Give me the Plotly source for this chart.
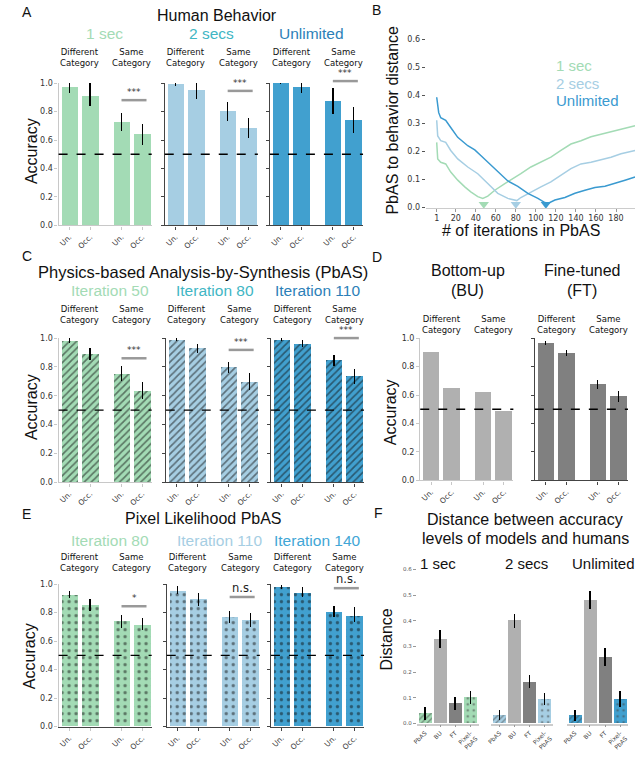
import plotly.graph_objects as go

# ---------------- data ----------------
CONDITIONS = ["Un.", "Occ.", "Un.", "Occ."]
CATEGORIES = ["Different<br>Category", "Same<br>Category"]

# A: Human behavior
A_GROUPS = ["1 sec", "2 secs", "Unlimited"]
A_VALS = [[0.972, 0.912, 0.727, 0.640], [0.995, 0.949, 0.800, 0.686], [0.998, 0.975, 0.873, 0.741]]
A_LO = [[0.930, 0.838, 0.665, 0.566], [0.977, 0.890, 0.732, 0.612], [0.990, 0.930, 0.780, 0.648]]
A_HI = [[1.000, 1.000, 0.790, 0.710], [1.000, 1.000, 0.868, 0.757], [1.000, 1.000, 0.965, 0.833]]
A_SIG = ["***", "***", "***"]
A_SIG_LEVEL = [0.88, 0.945, 1.014]

# B: PbAS to behavior distance
B_SERIES = ["1 sec", "2 secs", "Unlimited"]
B_ITER_1SEC = [1, 2, 5, 10, 15, 22, 29, 35, 42, 47, 52, 59, 69, 79, 85, 95, 105, 115, 125, 135, 145, 155, 165, 175, 185, 199]
B_DIST_1SEC = [0.233, 0.174, 0.162, 0.156, 0.127, 0.098, 0.074, 0.056, 0.039, 0.033, 0.041, 0.062, 0.086, 0.107, 0.121,
               0.145, 0.162, 0.180, 0.204, 0.227, 0.239, 0.253, 0.262, 0.272, 0.280, 0.292]
B_ITER_2SEC = [1, 2, 5, 10, 15, 22, 32, 42, 52, 62, 72, 77, 81, 85, 95, 105, 115, 125, 135, 145, 155, 165, 175, 185, 199]
B_DIST_2SEC = [0.312, 0.256, 0.239, 0.233, 0.204, 0.174, 0.145, 0.121, 0.086, 0.051, 0.033, 0.029, 0.025, 0.036, 0.056,
               0.074, 0.092, 0.115, 0.139, 0.156, 0.162, 0.171, 0.180, 0.192, 0.204]
B_ITER_UNLIM = [1, 3, 5, 10, 15, 22, 32, 39, 45, 52, 62, 72, 82, 92, 102, 109, 112, 119, 129, 139, 149, 159, 169, 179, 189, 199]
B_DIST_UNLIM = [0.394, 0.339, 0.321, 0.312, 0.286, 0.251, 0.221, 0.206, 0.186, 0.162, 0.127, 0.095, 0.076, 0.051, 0.033,
                0.018, 0.015, 0.027, 0.036, 0.051, 0.062, 0.072, 0.076, 0.086, 0.098, 0.109]
B_MIN_ITER = [48, 80, 110]
B_MIN_MARK = [0.012, 0.012, 0.012]
B_XTICKS = [1, 20, 40, 60, 80, 100, 120, 140, 160, 180]
B_YTICKS = [0.0, 0.1, 0.2, 0.3, 0.4, 0.5, 0.6]

# C: PbAS
C_GROUPS = ["Iteration 50", "Iteration 80", "Iteration 110"]
C_VALS = [[0.982, 0.892, 0.753, 0.634], [0.989, 0.929, 0.799, 0.696], [0.989, 0.961, 0.845, 0.735]]
C_LO = [[0.966, 0.851, 0.703, 0.577], [0.980, 0.897, 0.755, 0.641], [0.980, 0.938, 0.808, 0.685]]
C_HI = [[1.000, 0.931, 0.805, 0.698], [1.000, 0.961, 0.835, 0.755], [1.000, 0.984, 0.884, 0.785]]
C_SIG = ["***", "***", "***"]
C_SIG_LEVEL = [0.86, 0.918, 1.0]

# D: Bottom-up and fine-tuned
D_GROUPS = ["Bottom-up<br>(BU)", "Fine-tuned<br>(FT)"]
D_BU = [0.903, 0.650, 0.620, 0.484]
D_FT = [0.965, 0.896, 0.676, 0.593]
D_FT_LO = [0.951, 0.873, 0.641, 0.553]
D_FT_HI = [0.981, 0.919, 0.706, 0.630]

# E: Pixel likelihood PbAS
E_GROUPS = ["Iteration 80", "Iteration 110", "Iteration 140"]
E_VALS = [[0.926, 0.850, 0.738, 0.711], [0.954, 0.898, 0.769, 0.750], [0.981, 0.938, 0.805, 0.778]]
E_LO = [[0.905, 0.815, 0.694, 0.680], [0.930, 0.845, 0.727, 0.700], [0.965, 0.907, 0.766, 0.736]]
E_HI = [[0.954, 0.896, 0.787, 0.764], [0.988, 0.935, 0.815, 0.800], [0.995, 0.977, 0.845, 0.840]]
E_SIG = ["*", "n.s.", "n.s."]
E_SIG_LEVEL = [0.845, 0.91, 0.972]

# F: distance between models and humans
F_GROUPS = ["1 sec", "2 secs", "Unlimited"]
F_MODELS = ["PbAS", "BU", "FT", "Pixel-<br>PbAS"]
F_VALS = [[0.038, 0.328, 0.077, 0.102], [0.033, 0.400, 0.162, 0.094], [0.031, 0.480, 0.258, 0.096]]
F_ERR = [[0.025, 0.035, 0.025, 0.025], [0.020, 0.027, 0.025, 0.023], [0.022, 0.034, 0.036, 0.032]]
F_YTICKS = [0.0, 0.1, 0.2, 0.3, 0.4, 0.5, 0.6]
ACC_TICKS = [0.0, 0.2, 0.4, 0.6, 0.8, 1.0]

# ---------------- style ----------------
W, H = 640, 775
GREEN = "#a3dbb5"
LBLUE = "#a6cee3"
BLUE = "#41a0cf"
CYAN_T = "#41b6c4"
DBLUE_T = "#2c7fb8"
BU_GREY = "#b0b0b0"
FT_GREY = "#808080"
TITLE_FONT = "Liberation Sans, Arial, sans-serif"
TICK_FONT = "DejaVu Sans, sans-serif"
LIGHT_SPINE = "#c8c8c8"
DARK_SPINE = "#444444"

fig = go.Figure()
layout_axes = {}
shapes = []
annotations = []
n_axes = [0]


def fx(px):
    return px / W


def fy(py):
    return 1 - py / H


def new_axes(x0, x1, ytop, ybot, xr, yr, xopt, yopt):
    n_axes[0] += 1
    k = n_axes[0]
    s = "" if k == 1 else str(k)
    base = dict(showgrid=False, zeroline=False, fixedrange=True)
    xd = dict(base, domain=[fx(x0), fx(x1)], anchor="y" + s, range=xr)
    xd.update(xopt)
    yd = dict(base, domain=[fy(ybot), fy(ytop)], anchor="x" + s, range=yr)
    yd.update(yopt)
    layout_axes["xaxis" + s] = xd
    layout_axes["yaxis" + s] = yd
    return "x" + s, "y" + s


def text(t, px, py, size, color="#111111", family=TITLE_FONT, angle=0, xanchor="center", yanchor="middle"):
    annotations.append(dict(text=t, x=fx(px), y=fy(py), xref="paper", yref="paper", showarrow=False,
                            textangle=angle, xanchor=xanchor, yanchor=yanchor,
                            font=dict(size=size, color=color, family=family)))


def hline_px(x0, x1, py, color, width):
    shapes.append(dict(type="line", xref="paper", yref="paper", x0=fx(x0), x1=fx(x1), y0=fy(py), y1=fy(py),
                       line=dict(color=color, width=width)))


UNIT = 21.0
XR = [-0.52, 3.95]
POS = [0, 1, 2.5, 3.5]
BAR_W = 0.8


def px_of(x0, v):
    return x0 + (v - XR[0]) * UNIT


def py_of(ytop, ybot, v):
    return ybot - v * (ybot - ytop)


def bar_group(x0, ytop, ybot, vals, lo, hi, color, pattern, show_ylab, spine, bottom=None):
    x1 = x0 + (XR[1] - XR[0]) * UNIT
    xopt = dict(tickvals=POS, ticktext=CONDITIONS, tickangle=-45, ticks="outside", ticklen=3,
                tickcolor=spine, showline=True, linecolor=bottom or spine, linewidth=1.3,
                tickfont=dict(size=7.5, family=TICK_FONT, color="#333333"))
    yopt = dict(tickvals=ACC_TICKS, tickformat=".1f", ticks="outside", ticklen=3, tickcolor=spine,
                showline=True, linecolor=spine, linewidth=1.3, showticklabels=show_ylab,
                tickfont=dict(size=8, family=TICK_FONT, color="#333333"))
    xa, ya = new_axes(x0, x1, ytop, ybot, XR, [0, 1], xopt, yopt)
    marker = dict(color=color, line=dict(width=0))
    if pattern == "hatch":
        marker["pattern"] = dict(shape="/", fgcolor="#111111", bgcolor=color, size=5, solidity=0.34)
    elif pattern == "dots":
        marker["pattern"] = dict(shape=".", fgcolor="#111111", bgcolor=color, size=7, solidity=0.17)
    bar = dict(x=POS, y=vals, width=BAR_W, marker=marker, xaxis=xa, yaxis=ya, showlegend=False,
               hoverinfo="skip")
    if lo is not None:
        bar["error_y"] = dict(type="data", symmetric=False,
                              array=[h - v for v, h in zip(vals, hi)],
                              arrayminus=[v - l for v, l in zip(vals, lo)],
                              color="black", thickness=1.5, width=0)
    fig.add_trace(go.Bar(**bar))
    shapes.append(dict(type="line", xref=xa + " domain", yref=ya, x0=0, x1=1, y0=0.5, y1=0.5,
                       line=dict(color="black", width=1.3, dash="dash")))
    return xa, ya


def category_labels(x0, cy):
    text(CATEGORIES[0], px_of(x0, 0.5), cy, 8.5, family=TICK_FONT)
    text(CATEGORIES[1], px_of(x0, 3.0), cy, 8.5, family=TICK_FONT)


def sig_marker(x0, ytop, ybot, level, label, big=False):
    py = py_of(ytop, ybot, level)
    hline_px(px_of(x0, 2.5), px_of(x0, 3.7), py, "#999999", 2.5)
    if big:
        text(label, px_of(x0, 3.1), py, 11.5, family=TICK_FONT, color="#222222", yanchor="bottom")
    else:
        text(label, px_of(x0, 3.1), py - 1, 9, family=TICK_FONT, color="#333333", yanchor="bottom")


# ---------------- Panel A ----------------
A_X0 = [54, 161, 267]
A_TOP, A_BOT = 80, 224
A_COLORS = [GREEN, LBLUE, BLUE]
A_TCOLORS = [GREEN, CYAN_T, DBLUE_T]
A_TX = [100, 208, 309]
for g in range(3):
    bar_group(A_X0[g], A_TOP, A_BOT, A_VALS[g], A_LO[g], A_HI[g], A_COLORS[g], None, g == 0,
              LIGHT_SPINE if g == 0 else DARK_SPINE)
    category_labels(A_X0[g], 54.5)
    sig_marker(A_X0[g], A_TOP, A_BOT, A_SIG_LEVEL[g], A_SIG[g])
    text(A_GROUPS[g], A_TX[g], 30, 15.5, color=A_TCOLORS[g])
text("Human Behavior", 214, 12, 16)
text("A", 22, 8, 14)
text("Accuracy", 26, 149, 16, angle=-90)

# ---------------- Panel B ----------------
xa, ya = new_axes(424, 635, 36, 206, [-10, 199], [0, 0.6],
                  dict(tickvals=B_XTICKS, ticks="outside", ticklen=3, showline=True, linecolor="#cccccc",
                       tickcolor="#999999", tickfont=dict(size=8, family=TICK_FONT, color="#333333")),
                  dict(tickvals=B_YTICKS, tickformat=".1f", ticks="outside", ticklen=3, showline=False,
                       tickcolor="#555555", tickfont=dict(size=8, family=TICK_FONT, color="#333333")))
B_COLORS = [GREEN, LBLUE, "#3a9ad0"]
for xs, ys, c in [(B_ITER_1SEC, B_DIST_1SEC, B_COLORS[0]), (B_ITER_2SEC, B_DIST_2SEC, B_COLORS[1]),
                  (B_ITER_UNLIM, B_DIST_UNLIM, B_COLORS[2])]:
    fig.add_trace(go.Scatter(x=xs, y=ys, mode="lines", line=dict(color=c, width=1.5), xaxis=xa, yaxis=ya,
                             showlegend=False, hoverinfo="skip"))
fig.add_trace(go.Scatter(x=B_MIN_ITER, y=B_MIN_MARK, mode="markers", cliponaxis=False,
                         marker=dict(symbol="triangle-down", size=9, color=B_COLORS), xaxis=xa, yaxis=ya,
                         showlegend=False, hoverinfo="skip"))
for i, name in enumerate(B_SERIES):
    text(name, 553, 62 + 18 * i, 15, color=B_COLORS[i], xanchor="left")
text("B", 374, 6, 14)
text("PbAS to behavior distance", 391, 117, 16, angle=-90)
text("# of iterations in PbAS", 520, 229, 16)

# ---------------- Panel C ----------------
C_X0 = [54, 162, 268]
C_TOP, C_BOT = 338, 484
C_TCOLORS = [GREEN, CYAN_T, DBLUE_T]
C_TX = [105.5, 212, 314.5]
for g in range(3):
    bar_group(C_X0[g], C_TOP, C_BOT, C_VALS[g], C_LO[g], C_HI[g], A_COLORS[g], "hatch", g == 0,
              LIGHT_SPINE if g == 0 else DARK_SPINE)
    category_labels(C_X0[g], 314)
    sig_marker(C_X0[g], C_TOP, C_BOT, C_SIG_LEVEL[g], C_SIG[g])
    text(C_GROUPS[g], C_TX[g], 290, 15.5, color=C_TCOLORS[g])
text("Physics-based Analysis-by-Synthesis (PbAS)", 200, 271, 16.5)
text("C", 22, 255, 14)
text("Accuracy", 26, 408, 16, angle=-90)

# ---------------- Panel D ----------------
D_X0 = [418.5, 534]
D_TOP, D_BOT = 338, 482
bar_group(D_X0[0], D_TOP, D_BOT, D_BU, None, None, BU_GREY, None, True, LIGHT_SPINE)
bar_group(D_X0[1], D_TOP, D_BOT, D_FT, D_FT_LO, D_FT_HI, FT_GREY, None, False, DARK_SPINE)
for g in range(2):
    category_labels(D_X0[g], 324.7)
    top, bottom = D_GROUPS[g].split("<br>")
    text(top, px_of(D_X0[g], 1.75), 270, 16)
    text(bottom, px_of(D_X0[g], 1.75), 290, 16)
text("D", 375, 256, 14)
text("Accuracy", 388, 413, 16, angle=-90)

# ---------------- Panel E ----------------
E_X0 = [54, 163, 268]
E_TOP, E_BOT = 587, 731
E_TCOLORS = [GREEN, LBLUE, "#41a6d6"]
E_TX = [106, 216, 315]
for g in range(3):
    bar_group(E_X0[g], E_TOP, E_BOT, E_VALS[g], E_LO[g], E_HI[g], A_COLORS[g], "dots", g == 0,
              LIGHT_SPINE if g == 0 else DARK_SPINE, bottom=DARK_SPINE)
    category_labels(E_X0[g], 565.5)
    sig_marker(E_X0[g], E_TOP, E_BOT, E_SIG_LEVEL[g], E_SIG[g], big=(E_SIG[g] != "*"))
    text(E_GROUPS[g], E_TX[g], 543, 15.5, color=E_TCOLORS[g])
text("Pixel Likelihood PbAS", 200, 521, 16)
text("E", 22, 516, 14)
text("Accuracy", 25, 660, 16, angle=-90)

# ---------------- Panel F ----------------
F_UNIT = 15.2
F_XR = [-0.55, 3.55]
F_POS = [0, 1, 2, 3]
F_X0 = [415, 490, 566]
F_TOP, F_BOT = 572, 728
F_COLORS = [GREEN, LBLUE, BLUE]
F_TX = [436.7, 525.7, 603.7]
for g in range(3):
    x1 = F_X0[g] + (F_XR[1] - F_XR[0]) * F_UNIT
    xopt = dict(tickvals=F_POS, ticktext=F_MODELS, tickangle=-45, ticks="outside", ticklen=2,
                tickcolor="#999999", showline=True, linecolor="#cccccc", linewidth=1.5,
                tickfont=dict(size=6, family=TICK_FONT, color="#444444"))
    if g == 0:
        yopt = dict(tickvals=F_YTICKS, tickformat=".1f", ticks="outside", ticklen=3, tickcolor="#999999",
                    showline=False, tickfont=dict(size=5.5, family=TICK_FONT, color="#555555"))
    else:
        yopt = dict(visible=False)
    xa, ya = new_axes(F_X0[g], x1, F_TOP, F_BOT, F_XR, [0, 0.6], xopt, yopt)
    col = F_COLORS[g]
    colors = [col, BU_GREY, FT_GREY, col]
    fig.add_trace(go.Bar(
        x=F_POS, y=F_VALS[g], width=0.85,
        marker=dict(color=colors, line=dict(width=0),
                    pattern=dict(shape=["/", "", "", "."], fgcolor="#111111", bgcolor=colors,
                                 size=[4, 5, 5, 6], solidity=[0.34, 0.2, 0.2, 0.16])),
        error_y=dict(type="data", array=F_ERR[g], color="black", thickness=1.5, width=0),
        xaxis=xa, yaxis=ya, showlegend=False, hoverinfo="skip"))
    text(F_GROUPS[g], F_TX[g], 566, 15)
text("Distance between accuracy", 524, 522, 16)
text("levels of models and humans", 525, 541, 16)
text("F", 376, 515, 14)
text("Distance", 385, 643, 16, angle=-90)

fig.update_layout(
    width=W, height=H, autosize=False,
    margin=dict(l=0, r=0, t=0, b=0),
    paper_bgcolor="white", plot_bgcolor="white",
    bargap=0, showlegend=False,
    shapes=shapes, annotations=annotations,
    **layout_axes,
)
fig.write_html("out.html", config={"displayModeBar": False},
               post_script="document.body.style.margin='0';")
